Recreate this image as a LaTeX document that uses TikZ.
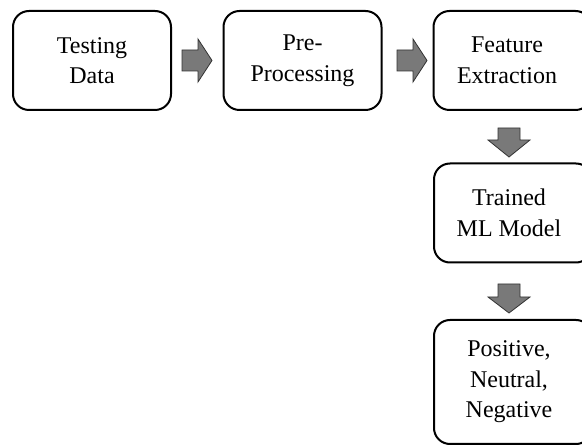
\documentclass[tikz,border=0pt]{standalone}
\usepackage{fontspec}
\setmainfont{Liberation Serif}
\begin{document}
\begin{tikzpicture}[x=1pt,y=-1pt,
  box/.style={draw=black, line width=2pt, rounded corners=16pt, align=center,
    font=\fontsize{24}{30.5}\selectfont, inner sep=0pt,
    minimum width=158pt, minimum height=99pt},
  blockarrow/.style={draw=black!80, line width=0.8pt, fill=gray!95!black, line join=miter}]
\useasboundingbox (0,0) rectangle (582,446);
% boxes
\node[box] (b1) at (92,60.5) {Testing\\Data};
\node[box] (b2) at (302.5,60.5) {Pre-\\Processing};
\node[box] (b3) at (512.5,60.5) {\hspace*{-11pt}Feature\\\hspace*{-11pt}Extraction};
\node[box] (b4) at (513,213) {\hspace*{-8pt}Trained\\\hspace*{-8pt}ML Model};
\node[box, minimum height=124pt] (b5) at (513,382) {\hspace*{-8pt}Positive,\\\hspace*{-8pt}Neutral,\\\hspace*{-8pt}Negative};
% block arrows
\draw[blockarrow] (182,50) -- (198,50) -- (198,39) -- (212,60.5) -- (198,82) -- (198,71) -- (182,71) -- cycle;
\draw[blockarrow] (397,50) -- (413,50) -- (413,39) -- (427,60.5) -- (413,82) -- (413,71) -- (397,71) -- cycle;
\draw[blockarrow] (498,128) -- (520,128) -- (520,140) -- (530,140) -- (509,157) -- (488,140) -- (498,140) -- cycle;
\draw[blockarrow] (498,284) -- (520,284) -- (520,297) -- (530,297) -- (509,313) -- (488,297) -- (498,297) -- cycle;
\end{tikzpicture}
\end{document}
